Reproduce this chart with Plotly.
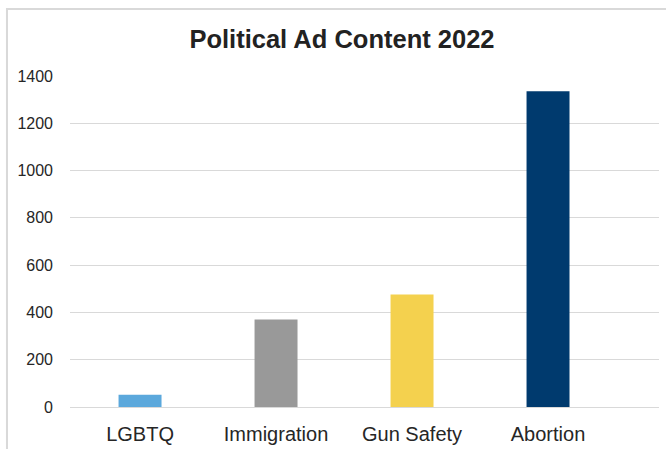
import plotly.graph_objects as go

categories = ["LGBTQ", "Immigration", "Gun Safety", "Abortion"]
values = [52, 370, 476, 1335]
colors = ["#5BA8DC", "#999999", "#F4D14E", "#003A6E"]
y_ticks = [0, 200, 400, 600, 800, 1000, 1200, 1400]
title_text = "Political Ad Content 2022"

fig = go.Figure(go.Bar(
    x=list(range(len(categories))),
    y=values,
    marker=dict(color=colors, line=dict(width=0)),
    width=0.316,
))

fig.update_layout(
    width=666, height=449,
    margin=dict(l=70, r=7, t=76, b=42),
    paper_bgcolor="white", plot_bgcolor="white",
    showlegend=False,
    title=dict(text="<b>" + title_text + "</b>", x=0.5135, xref="container",
               xanchor="center", y=0.913, yref="container", yanchor="middle",
               font=dict(family="Liberation Sans, Arial, sans-serif", size=25.5, color="#222222")),
    font=dict(family="Liberation Sans, Arial, sans-serif", color="#262626"),
    xaxis=dict(
        range=[-0.515, 3.816],
        tickmode="array", tickvals=list(range(len(categories))), ticktext=categories,
        tickfont=dict(size=20, color="#262626"),
        showgrid=False, zeroline=False, showline=False, ticks="",
        ticklabelstandoff=13, automargin=False,
    ),
    yaxis=dict(
        range=[0, 1400],
        tickmode="array", tickvals=y_ticks,
        tickfont=dict(size=16, color="#262626"),
        showgrid=True, gridcolor="#d9d9d9", gridwidth=1,
        zeroline=True, zerolinecolor="#d9d9d9", zerolinewidth=1,
        showline=False, ticks="",
        ticklabelstandoff=16, automargin=False,
    ),
    shapes=[dict(type="rect", xref="paper", yref="paper",
                 x0=-0.107, x1=1.2, y0=-0.3, y1=1.2024,
                 line=dict(color="#d9d9d9", width=2), fillcolor="rgba(0,0,0,0)", layer="below")],
)

fig.write_html("out.html", config={"displayModeBar": False},
               post_script="document.body.style.margin='0';document.body.style.overflow='hidden';")
